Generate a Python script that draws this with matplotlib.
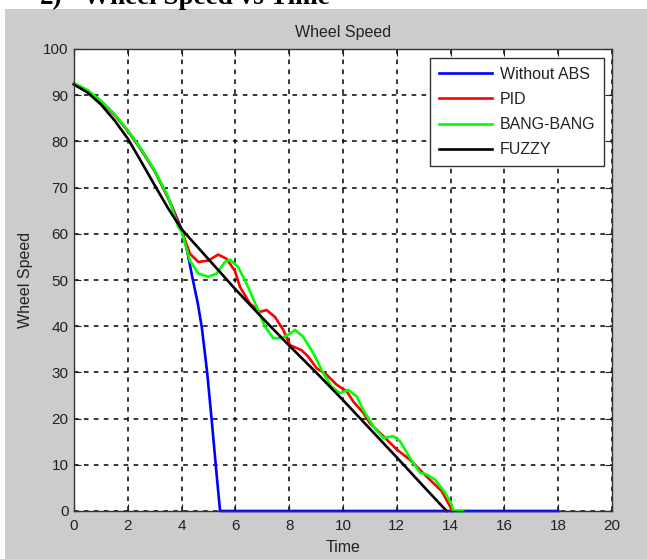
import matplotlib
matplotlib.use('Agg')
import matplotlib.pyplot as plt
from matplotlib.patches import Rectangle

# DATOS
t_sin_abs = [0, 0.5, 1, 1.5, 2, 2.5, 3, 3.5, 4.0, 4.2, 4.42, 4.6, 4.75, 4.95, 5.12, 5.3, 5.43, 18]
v_sin_abs = [92.5, 91.0, 88.7, 85.8, 82.3, 78.2, 73.6, 67.8, 61.0, 56.5, 50, 45, 39.8, 30, 19.6, 8, 0, 0]

t_pid = [0, 0.5, 1, 1.5, 2, 2.5, 3, 3.5, 4.0, 4.31, 4.62, 4.99, 5.36, 5.67, 5.98, 6.17, 6.54, 6.91,
         7.16, 7.47, 7.78, 8.03, 8.46, 8.71, 9.02, 9.39, 9.77, 10.14, 10.38, 10.76, 11.0, 11.5,
         12.0, 12.49, 13.1, 13.67, 13.98, 14.05]
v_pid = [92.5, 91.0, 88.7, 85.8, 82.3, 78.2, 73.6, 67.8, 60.7, 55.7, 53.9, 54.2, 55.5, 54.6, 52.0,
         48.5, 44.9, 43.1, 43.5, 42.0, 39.2, 35.9, 34.8, 33.4, 30.9, 29.5, 27.3, 25.9, 23.7, 21.2,
         19.0, 16.2, 13.3, 11.1, 7.5, 4.3, 1.0, 0]

t_bang = [0, 0.5, 1, 1.5, 2, 2.5, 3, 3.5, 3.88, 4.0, 4.31, 4.62, 4.99, 5.3, 5.61, 5.8, 6.1, 6.42,
          6.79, 7.1, 7.41, 7.72, 8.03, 8.22, 8.52, 8.9, 9.27, 9.58, 9.89, 10.2, 10.51, 10.75,
          11.13, 11.5, 11.87, 12.12, 12.49, 12.86, 13.11, 13.42, 13.79, 14.04, 14.1, 14.47]
v_bang = [92.6, 91.1, 88.8, 85.9, 82.4, 78.3, 73.7, 68.0, 61.4, 60.5, 54.2, 51.4, 50.7, 51.4, 53.9,
          54.4, 52.8, 49.2, 44.2, 39.9, 37.4, 37.4, 38.4, 39.2, 37.7, 34.1, 29.8, 26.9, 25.5, 26.2,
          24.8, 21.9, 18.3, 15.8, 16.2, 15.1, 11.5, 8.3, 7.9, 6.8, 4.0, 1.4, 0, 0]

t_fuzzy = [0, 0.5, 1, 1.5, 2, 2.5, 3, 3.5, 4, 5, 6, 7, 8, 9, 10, 11, 12, 13, 13.85]
v_fuzzy = [92.3, 90.6, 88.0, 84.6, 80.6, 75.6, 70.5, 65.5, 61.0, 54.5, 48.0, 41.8, 35.8, 30.0,
           24.0, 17.8, 11.6, 5.3, 0]

etiquetas = ['Without ABS', 'PID', 'BANG-BANG', 'FUZZY']
colores = ['#0000ff', '#ff0000', '#00ff00', '#000000']

plt.rcParams['font.family'] = ['Liberation Sans', 'DejaVu Sans']

fig = plt.figure(figsize=(6.47, 5.59), dpi=100)
fig.patch.set_facecolor('white')
# fondo gris estilo MATLAB
fig.patches.append(Rectangle((5 / 647, -0.01), 1.01, 1.01 - 9 / 559, transform=fig.transFigure,
                             facecolor='#cccccc', edgecolor='none', zorder=-10))

ax = fig.add_axes([74 / 647, 1 - 511 / 559, (612 - 74) / 647, (511 - 49) / 559])
ax.set_facecolor('white')

series = [(t_sin_abs, v_sin_abs), (t_pid, v_pid), (t_bang, v_bang), (t_fuzzy, v_fuzzy)]
for (t, v), lab, col in zip(series, etiquetas, colores):
    ax.plot(t, v, color=col, linewidth=1.9, label=lab, clip_on=False)

ax.set_xlim(0, 20)
ax.set_ylim(0, 100)
ax.set_xticks(range(0, 21, 2))
ax.set_yticks(range(0, 101, 10))
ax.grid(True, color='black', linestyle=(0, (3, 3.5)), linewidth=1.1)
ax.set_axisbelow(True)
ax.tick_params(direction='in', length=5, top=True, right=True, labelsize=11,
               colors='#222222', pad=4)
ax.tick_params(axis='x', pad=6)
for s in ax.spines.values():
    s.set_color('#333333')
    s.set_linewidth(1.0)

ax.set_title('Wheel Speed', fontsize=11.5, color='#222222', pad=9)
ax.set_xlabel('Time', fontsize=11.5, color='#222222', labelpad=5)
ax.set_ylabel('Wheel Speed', fontsize=11.5, color='#222222', labelpad=7)

leg = ax.legend(loc='upper right', bbox_to_anchor=(0.9855, 0.9805), fontsize=11.5,
                fancybox=False, framealpha=1, edgecolor='#333333', handlelength=3.3,
                handletextpad=0.5, labelspacing=0.64, borderpad=0.55, borderaxespad=0)
leg.get_frame().set_linewidth(1.0)
for txt in leg.get_texts():
    txt.set_color('#222222')

# titulo del documento, cortado arriba como en el original
fig.text(40 / 647, 1 - 4 / 559, '2)', fontsize=19.5, fontweight='bold',
         family='Liberation Serif', va='baseline', ha='left')
fig.text(83 / 647, 1 - 4 / 559, 'Wheel Speed vs Time', fontsize=19.5, fontweight='bold',
         family='Liberation Serif', va='baseline', ha='left')

fig.savefig('out.png', dpi=100, facecolor=fig.get_facecolor())
